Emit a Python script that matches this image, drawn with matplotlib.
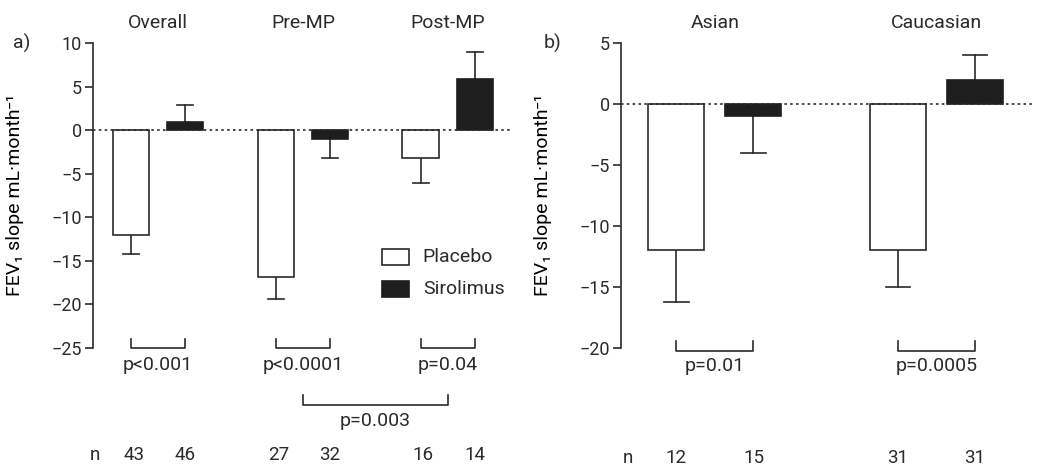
import numpy as np
import matplotlib
matplotlib.use("Agg")
import matplotlib.pyplot as plt
from matplotlib.patches import Rectangle

plt.rcParams['font.family'] = ['Roboto', 'DejaVu Sans']
INK = "#2a2a2a"
plt.rcParams['text.color'] = INK
plt.rcParams['axes.edgecolor'] = INK
plt.rcParams['xtick.color'] = INK
plt.rcParams['ytick.color'] = INK

# ── Panel a: by menopausal status ──
groups_a = ["Overall", "Pre-MP", "Post-MP"]
placebo_a = [-12.0, -16.8, -3.2]
placebo_a_err = [2.2, 2.6, 2.9]
sirolimus_a = [0.9, -1.0, 5.9]
sirolimus_a_err = [2.0, 2.2, 3.1]
n_placebo_a = [43, 27, 16]
n_sirolimus_a = [46, 32, 14]
pvals_a = ["p<0.001", "p<0.0001", "p=0.04"]
p_between_a = "p=0.003"

# ── Panel b: by ethnicity ──
groups_b = ["Asian", "Caucasian"]
placebo_b = [-12.0, -12.0]
placebo_b_err = [4.2, 3.0]
sirolimus_b = [-1.0, 2.0]
sirolimus_b_err = [3.0, 2.0]
n_placebo_b = [12, 31]
n_sirolimus_b = [15, 31]
pvals_b = ["p=0.01", "p=0.0005"]

W, H = 1038, 467
fig = plt.figure(figsize=(W / 100, H / 100), dpi=100)


def px_axes(x0, x1, ytop, ybot):
    return fig.add_axes([x0 / W, 1 - ybot / H, (x1 - x0) / W, (ybot - ytop) / H])


def draw_panel(ax, groups, plac, plac_err, siro, siro_err, off, width):
    x = np.arange(len(groups))
    xp, xs = x - off, x + off
    ax.bar(xp, plac, width, color="white", edgecolor=INK, linewidth=1.2, zorder=3)
    ax.bar(xs, siro, width, color="#1e1e1e", edgecolor="#1e1e1e", linewidth=1.2, zorder=3)
    # one-sided error bars pointing away from zero
    for xx, v, e in list(zip(xp, plac, plac_err)) + list(zip(xs, siro, siro_err)):
        tip = v + np.sign(v) * e
        ax.plot([xx, xx], [v, tip], color=INK, lw=1.2, zorder=2)
        ax.plot([xx - 0.055, xx + 0.055], [tip, tip], color=INK, lw=1.2, zorder=2)
    ax.axhline(0, color=INK, lw=1.2, ls=(0, (1.5, 2)), zorder=4)
    for s in ["top", "right", "bottom"]:
        ax.spines[s].set_visible(False)
    ax.spines["left"].set_linewidth(1.2)
    ax.set_xticks([])
    ax.tick_params(axis="y", length=6, width=1.2, labelsize=13, pad=2)
    for g, name in zip(x, groups):
        ax.text(g, 1.035, name, transform=ax.get_xaxis_transform(),
                ha="center", va="bottom", fontsize=14)
    return xp, xs


def bracket(ax, x0, x1, y, h, label, ty):
    ax.plot([x0, x0, x1, x1], [y + h, y, y, y + h], color=INK, lw=1.2, clip_on=False)
    ax.text((x0 + x1) / 2, ty, label, ha="center", va="center", fontsize=14, clip_on=False)


# panel a
ax1 = px_axes(93, 510, 43, 348)
ax1.set_xlim(-0.45, 2.43)
ax1.set_ylim(-25, 10)
ax1.set_yticks([10, 5, 0, -5, -10, -15, -20, -25])
xp, xs = draw_panel(ax1, groups_a, placebo_a, placebo_a_err,
                    sirolimus_a, sirolimus_a_err, 0.1875, 0.25)
for a, b, p in zip(xp, xs, pvals_a):
    bracket(ax1, a, b, -25.05, 1.05, p, -26.9)
bracket(ax1, 1, 2, -31.5, 1.15, p_between_a, -33.4)
ax1.text(xp[0] - 0.25, -37.3, "n", ha="center", va="center", fontsize=13.5)
for a, b, na, nb in zip(xp, xs, n_placebo_a, n_sirolimus_a):
    ax1.text(a + 0.02, -37.3, str(na), ha="center", va="center", fontsize=13.5)
    ax1.text(b, -37.3, str(nb), ha="center", va="center", fontsize=13.5)
ax1.set_ylabel("FEV₁ slope mL·month⁻¹", fontsize=14)
ax1.yaxis.set_label_coords(-0.165, 0.5)
ax1.text(-0.17, 1.0, "a)", transform=ax1.transAxes, ha="center", va="center", fontsize=14)

# legend drawn as boxes beside labels
lx = (382 - 93) / 417
for i, (fc, lab) in enumerate([("white", "Placebo"), ("#1e1e1e", "Sirolimus")]):
    yc = 1 - (257 - 43) / 305 - i * 0.105
    ax1.add_patch(Rectangle((lx, yc - 0.027), 0.065, 0.054, transform=ax1.transAxes,
                            facecolor=fc, edgecolor=INK if fc == "white" else fc,
                            lw=1.2, clip_on=False, zorder=5))
    ax1.text(lx + 0.098, yc, lab, transform=ax1.transAxes, ha="left", va="center",
             fontsize=14)

# panel b
ax2 = px_axes(621, 1035, 43, 348)
ax2.set_xlim(-0.424, 1.445)
ax2.set_ylim(-20, 5)
ax2.set_yticks([5, 0, -5, -10, -15, -20])
xp, xs = draw_panel(ax2, groups_b, placebo_b, placebo_b_err,
                    sirolimus_b, sirolimus_b_err, 0.174, 0.253)
for a, b, p in zip(xp, xs, pvals_b):
    bracket(ax2, a, b, -20.25, 0.85, p, -21.5)
ax2.text(xp[0] - 0.22, -29.0, "n", ha="center", va="center", fontsize=13.5)
for a, b, na, nb in zip(xp, xs, n_placebo_b, n_sirolimus_b):
    ax2.text(a, -29.0, str(na), ha="center", va="center", fontsize=13.5)
    ax2.text(b, -29.0, str(nb), ha="center", va="center", fontsize=13.5)
ax2.set_ylabel("FEV₁ slope mL·month⁻¹", fontsize=14)
ax2.yaxis.set_label_coords(-0.167, 0.5)
ax2.text(-0.165, 1.0, "b)", transform=ax2.transAxes, ha="center", va="center", fontsize=14)

fig.savefig("out.png", dpi=100)
